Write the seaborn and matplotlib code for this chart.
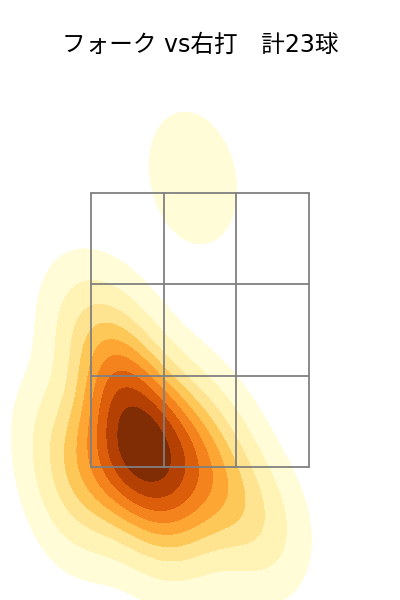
import numpy as np
import pandas as pd
import matplotlib
matplotlib.use("Agg")
import matplotlib.pyplot as plt
import seaborn as sns

sns.set_style("white")
plt.rcParams['font.family'] = ['DejaVu Sans', 'Noto Sans CJK JP']

title = "フォーク vs右打　計23球"

# pitch locations (plate_x, plate_z), zone x in [-1, 1], z in [1.5, 3.5]
plate_x = [-0.064, -0.688, -0.459, -0.367, -0.642, -0.275, -0.780, -0.459, -0.596, -0.734,
           -0.780, -1.055, -1.284, 0.046, 0.321, 0.596, -0.138, -0.734, -0.963, -0.183,
           0.138, -0.367, -1.147]
plate_z = [3.61, 1.807, 1.697, 1.551, 1.515, 1.661, 1.916, 1.405, 2.026, 2.135,
           2.391, 2.536, 1.697, 1.369, 1.259, 1.040, 1.186, 1.405, 1.515, 1.880,
           1.661, 1.040, 1.223]

zone_x = [-1.0, -1/3, 1/3, 1.0]
zone_z = [1.5, 1.5 + 2/3, 1.5 + 4/3, 3.5]

df = pd.DataFrame({"x": plate_x, "z": plate_z})

fig = plt.figure(figsize=(4, 6), dpi=100)
ax = fig.add_axes([0, 0, 1, 0.88])
sns.kdeplot(data=df, x="x", y="z", fill=True, cmap="YlOrBr", levels=10,
            thresh=0.05, ax=ax)
for xv in zone_x:
    ax.plot([xv, xv], [zone_z[0], zone_z[-1]], color="#808080", lw=1.3)
for zv in zone_z:
    ax.plot([zone_x[0], zone_x[-1]], [zv, zv], color="#808080", lw=1.3)
ax.set_xlim(-200/109, 200/109)
ax.set_ylim(1.5 - 133/137, 3.5 + 121/137)
ax.axis("off")
fig.suptitle(title, y=0.945, fontsize=17, color="black")
fig.savefig("out.png", dpi=100)
